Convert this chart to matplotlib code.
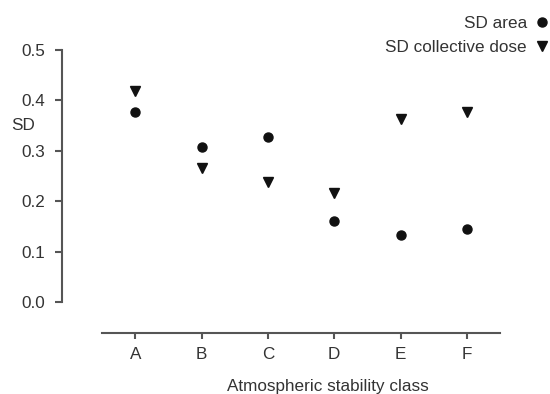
import matplotlib
matplotlib.use("Agg")
import matplotlib.pyplot as plt

plt.rcParams['font.family'] = ['Liberation Sans', 'DejaVu Sans']

classes = ["A", "B", "C", "D", "E", "F"]
sd_area = [0.376, 0.308, 0.327, 0.161, 0.132, 0.144]
sd_dose = [0.419, 0.266, 0.239, 0.217, 0.364, 0.376]
yticks = [0.0, 0.1, 0.2, 0.3, 0.4, 0.5]

txt = "#333333"
axc = "#555555"
fs = 12.3

fig = plt.figure(figsize=(5.5, 3.94), dpi=100)
ax = fig.add_axes([102/550, 1-333/394, 398/550, 293/394])

x = list(range(len(classes)))
ax.plot(x, sd_area, 'o', color='#111111', markersize=6.5, linestyle='none', label='SD area', clip_on=False)
ax.plot(x, sd_dose, 'v', color='#111111', markersize=7.5, linestyle='none', label='SD collective dose', clip_on=False)

ax.set_xlim(-0.5, 5.5)
ax.set_ylim(-31/504, 0.5 + 10/504)
ax.set_xticks(x)
ax.set_xticklabels(classes)
ax.set_yticks(yticks)
ax.set_yticklabels([f"{v:.1f}" for v in yticks])

for s in ['top', 'right']:
    ax.spines[s].set_visible(False)
ax.spines['left'].set_position(('outward', 29))
ax.spines['left'].set_bounds(0, 0.5)
for s in ['left', 'bottom']:
    ax.spines[s].set_color(axc)
    ax.spines[s].set_linewidth(1.5)

ax.tick_params(axis='y', direction='out', length=5, width=1.5, color=axc,
               labelsize=fs, labelcolor=txt, pad=7)
ax.tick_params(axis='x', direction='out', length=4, width=1.5, color=axc,
               labelsize=fs, labelcolor=txt, pad=6)

ax.set_xlabel("Atmospheric stability class", fontsize=fs, color=txt)
ax.xaxis.set_label_coords((328-102)/398, -(386-333)/293)
ax.xaxis.label.set_va('center')
ax.set_ylabel("SD", fontsize=fs, color=txt, rotation=0, ha='center', va='center')
ax.yaxis.set_label_coords((23-102)/398, (333-125)/293)

leg = fig.legend(loc='upper right', bbox_to_anchor=(549/550, 1-16/394), frameon=False,
                 markerfirst=False, fontsize=fs, labelspacing=0.5, handlelength=0.8,
                 handletextpad=0.5, borderpad=0.0, borderaxespad=0.0)
for t in leg.get_texts():
    t.set_color(txt)

fig.savefig("out.png", dpi=100)
